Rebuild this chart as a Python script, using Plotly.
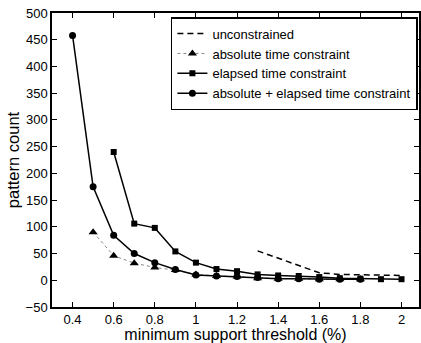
import plotly.graph_objects as go

x_unc = [1.3, 1.4, 1.5, 1.6, 1.7, 1.8, 1.9, 2.0]
y_unc = [55, 41, 27, 14, 11, 10, 9, 9]

x_abs = [0.5, 0.6, 0.7, 0.8, 0.9, 1.0, 1.1, 1.2, 1.3, 1.4, 1.5, 1.6, 1.7, 1.8]
y_abs = [90, 46, 32, 24, 19, 11, 8, 7, 4, 3, 3, 2, 2, 2]

x_ela = [0.6, 0.7, 0.8, 0.9, 1.0, 1.1, 1.2, 1.3, 1.4, 1.5, 1.6, 1.7, 1.8, 1.9, 2.0]
y_ela = [240, 106, 98, 54, 33, 21, 17, 11, 9, 8, 6, 4, 3, 2, 2]

x_both = [0.4, 0.5, 0.6, 0.7, 0.8, 0.9, 1.0, 1.1, 1.2, 1.3, 1.4, 1.5, 1.6, 1.7, 1.8]
y_both = [458, 175, 84, 50, 33, 20, 10, 8, 7, 5, 3, 3, 2, 2, 2]

x_ticks = [0.4, 0.6, 0.8, 1.0, 1.2, 1.4, 1.6, 1.8, 2.0]
x_tick_labels = ["0.4", "0.6", "0.8", "1", "1.2", "1.4", "1.6", "1.8", "2"]
y_ticks = [-50, 0, 50, 100, 150, 200, 250, 300, 350, 400, 450, 500]
y_tick_labels = ["\u221250", "0", "50", "100", "150", "200", "250", "300", "350", "400", "450", "500"]

FONT = "Liberation Sans, Arial, Helvetica, sans-serif"

fig = go.Figure()
fig.add_trace(go.Scatter(x=x_unc, y=y_unc, mode="lines", name="unconstrained",
                         line=dict(color="black", width=1.5, dash="6px,4px")))
fig.add_trace(go.Scatter(x=x_abs, y=y_abs, mode="lines+markers", name="absolute time constraint",
                         line=dict(color="#888888", width=1, dash="dot"),
                         marker=dict(symbol="triangle-up", size=8, color="black")))
fig.add_trace(go.Scatter(x=x_ela, y=y_ela, mode="lines+markers", name="elapsed time constraint",
                         line=dict(color="black", width=1.5),
                         marker=dict(symbol="square", size=6, color="black")))
fig.add_trace(go.Scatter(x=x_both, y=y_both, mode="lines+markers", name="absolute + elapsed time constraint",
                         line=dict(color="black", width=1.5),
                         marker=dict(symbol="circle", size=7, color="black")))

fig.update_layout(
    width=421, height=343,
    margin=dict(l=52, r=0, t=13, b=36),
    paper_bgcolor="white", plot_bgcolor="white",
    font=dict(family=FONT, color="black", size=13),
    showlegend=True,
    legend=dict(x=0.997, y=0.986, xanchor="right", yanchor="top",
                bgcolor="white", bordercolor="black", borderwidth=1.5,
                font=dict(size=13, family=FONT), tracegroupgap=0,
                itemwidth=30),
    xaxis=dict(range=[0.3, 2.085], tickvals=x_ticks, ticktext=x_tick_labels,
               ticks="inside", ticklen=5, tickcolor="black", showline=True,
               linecolor="black", linewidth=1.5, mirror="ticks", showgrid=False,
               zeroline=False, tickfont=dict(size=13),
               title=dict(text="minimum support threshold (%)", font=dict(size=16), standoff=4)),
    yaxis=dict(range=[-50, 500], tickvals=y_ticks, ticktext=y_tick_labels,
               ticks="inside", ticklen=5, tickcolor="black", showline=True,
               linecolor="black", linewidth=1.5, mirror="ticks", showgrid=False,
               zeroline=False, tickfont=dict(size=13),
               title=dict(text="pattern count", font=dict(size=16.5), standoff=2)),
)

fig.write_html("out.html")
